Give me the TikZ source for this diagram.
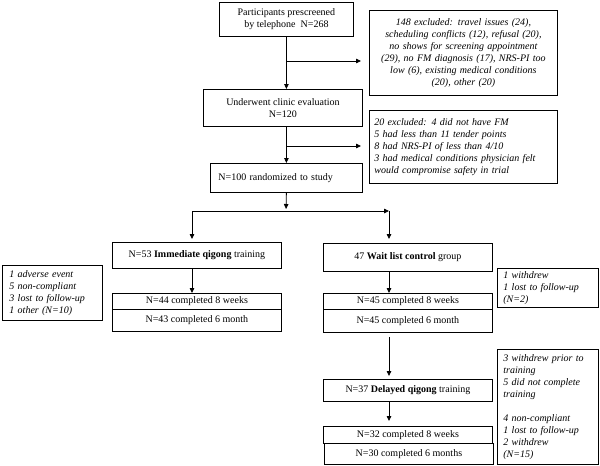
\documentclass[tikz,border=0pt]{standalone}
\usepackage{fontspec}
\setmainfont{Liberation Serif}
\usetikzlibrary{arrows.meta,calc}
\begin{document}
\begin{tikzpicture}[x=1pt,y=-1pt,
  box/.style={draw=black, line width=0.8pt, inner sep=0pt, align=center, anchor=north west,
    font=\fontsize{10}{12}\selectfont},
  note/.style={draw=black, line width=0.8pt, inner ysep=0pt, align=left, anchor=north west,
    font=\fontsize{10}{12}\selectfont\itshape},
  arr/.style={line width=0.8pt, -{Triangle[length=5pt,width=4.5pt]}}
]
\useasboundingbox (0,0) rectangle (600,466);

% top column
\node[box, minimum width=134pt, minimum height=34pt] (b1) at (219,2) {Participants prescreened\\by telephone\ \ N=268};
\node[note, align=center, text width=180pt, inner xsep=4pt, minimum height=85pt] (ex1) at (369,10)
  {148 excluded: travel issues (24),\\ scheduling conflicts (12), refusal (20),\\ no shows for screening appointment\\ (29), no FM diagnosis (17), NRS-PI too\\ low (6), existing medical conditions\\ (20), other (20)};
\node[box, minimum width=159pt, minimum height=37pt] (b2) at (203,89) {Underwent clinic evaluation\\N=120};
\node[note, text width=178pt, inner xsep=5pt, minimum height=73pt] (ex2) at (369,110)
  {20 excluded: 4 did not have FM\\5 had less than 11 tender points\\8 had NRS-PI of less than 4/10\\3 had medical conditions physician felt\\would compromise safety in trial};
\node[box, align=left, text width=136pt, inner xsep=8pt, minimum height=29pt] (b3) at (210,163) {N=100 randomized to study};

% arms
\node[box, minimum width=169pt, minimum height=26pt] (imm) at (112,242) {N=53 \textbf{Immediate qigong} training};
\node[box, minimum width=169pt, minimum height=28pt] (ctl) at (323,243) {47 \textbf{Wait list control} group};
\node[box, minimum width=169pt, minimum height=16pt] (lc1) at (112,293) {N=44 completed 8 weeks};
\node[box, minimum width=169pt, minimum height=22pt] (lc2) at (112,309) {N=43 completed 6 month};
\node[box, minimum width=169pt, minimum height=16pt] (rc1) at (323,293) {N=45 completed 8 weeks};
\node[box, minimum width=169pt, minimum height=23pt] (rc2) at (323,309) {N=45 completed 6 month};
\node[note, text width=86pt, inner xsep=7pt, minimum height=55pt] (exL) at (2,265)
  {1 adverse event\\5 non-compliant\\3 lost to follow-up\\1 other (N=10)};
\node[note, text width=89pt, inner xsep=6pt, minimum height=39pt] (exR) at (497,268)
  {1 withdrew\\1 lost to follow-up\\(N=2)};

% delayed
\node[box, minimum width=169pt, minimum height=22pt] (del) at (323,379) {N=37 \textbf{Delayed qigong} training};
\node[box, minimum width=169pt, minimum height=17pt] (dc1) at (323,426) {N=32 completed 8 weeks};
\node[box, minimum width=169pt, minimum height=21pt] (dc2) at (324,443) {N=30 completed 6 months};
\node[note, text width=89pt, inner xsep=6pt, minimum height=115pt] (exR2) at (497,349)
  {3 withdrew prior to\\training\\5 did not complete\\training\\[12pt]4 non-compliant\\1 lost to follow-up\\2 withdrew\\(N=15)};

% connectors
\coordinate (j1) at (286,61);
\coordinate (j2) at (286,146);
\coordinate (jm) at (286,211);
\coordinate (jl) at (192,211);
\coordinate (jr) at (389,211);
\draw[arr] (b1.south) -- (b1.south |- b2.north);
\draw[arr, shorten >=8pt] (j1) -- (j1 -| ex1.west);
\draw[arr] (b1.south |- b2.south) -- (b1.south |- b3.north);
\draw[arr, shorten >=8pt] (j2) -- (j2 -| ex2.west);
\draw[arr, shorten >=2pt] (b3.south) -- (jm);
\draw[arr] (jl) -- (jr);
\draw[arr, shorten >=3pt] (jl) -- (jl |- imm.north);
\draw[arr, shorten >=4pt] (jr) -- (jr |- ctl.north);
\draw[arr] (jl |- imm.south) -- (jl |- lc1.north);
\draw[arr] (jr |- ctl.south) -- (jr |- rc1.north);
\draw[arr, shorten <=4pt, shorten >=3pt] (jr |- rc2.south) -- (jr |- del.north);
\draw[arr, shorten >=5pt] (jr |- del.south) -- (jr |- dc1.north);
\end{tikzpicture}
\end{document}
